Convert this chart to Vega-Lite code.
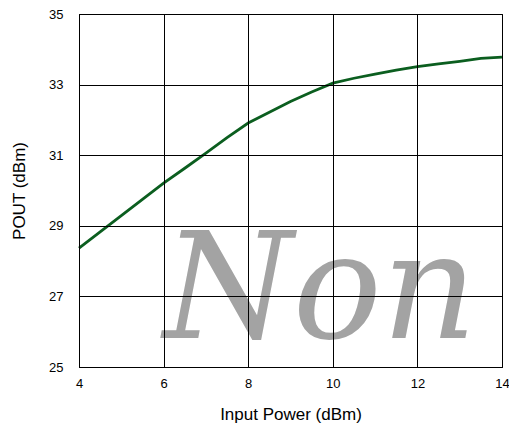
{
  "$schema": "https://vega.github.io/schema/vega-lite/v6.json",
  "width": 423,
  "height": 353,
  "autosize": "none",
  "padding": {"left": 79, "top": 14, "right": 7, "bottom": 66},
  "background": "white",
  "config": {
    "view": {"stroke": "black", "strokeWidth": 1},
    "font": "Liberation Sans"
  },
  "layer": [
    {
      "data": {"values": [{"label": "Non"}]},
      "mark": {"type": "text", "font": "DejaVu Serif", "fontStyle": "italic", "fontSize": 148, "color": "#a3a3a3", "align": "center", "baseline": "bottom", "clip": false},
      "encoding": {
        "text": {"field": "label"},
        "x": {"datum": 9.7, "type": "quantitative"},
        "y": {"datum": 24.95, "type": "quantitative"}
      }
    },
    {
      "data": {
        "values": [
          {"pin": 4, "pout": 28.37},
          {"pin": 4.5, "pout": 28.83},
          {"pin": 5, "pout": 29.29},
          {"pin": 5.5, "pout": 29.75},
          {"pin": 6, "pout": 30.21},
          {"pin": 6.5, "pout": 30.63},
          {"pin": 7, "pout": 31.06},
          {"pin": 7.5, "pout": 31.5},
          {"pin": 8, "pout": 31.91},
          {"pin": 8.5, "pout": 32.22},
          {"pin": 9, "pout": 32.52},
          {"pin": 9.5, "pout": 32.79},
          {"pin": 10, "pout": 33.04},
          {"pin": 10.5, "pout": 33.18},
          {"pin": 11, "pout": 33.3},
          {"pin": 11.5, "pout": 33.41},
          {"pin": 12, "pout": 33.51},
          {"pin": 12.5, "pout": 33.59},
          {"pin": 13, "pout": 33.66},
          {"pin": 13.5, "pout": 33.74},
          {"pin": 14, "pout": 33.78}
        ]
      },
      "mark": {"type": "line", "color": "#0b5e1f", "strokeWidth": 2.8},
      "encoding": {
        "x": {
          "field": "pin", "type": "quantitative",
          "scale": {"domain": [4, 14], "nice": false, "zero": false},
          "axis": {
            "title": "Input Power (dBm)",
            "values": [4, 6, 8, 10, 12, 14],
            "grid": true, "gridColor": "black", "gridOpacity": 1, "gridWidth": 1,
            "domainColor": "black", "domainWidth": 1,
            "ticks": false, "labelPadding": 10,
            "labelFontSize": 13, "labelColor": "black", "labelFont": "Liberation Sans",
            "labelFlush": false, "labelOverlap": false,
            "titleFontSize": 17, "titleFontWeight": "normal", "titleColor": "black", "titleFont": "Liberation Sans",
            "titlePadding": 16,
            "zindex": 1
          }
        },
        "y": {
          "field": "pout", "type": "quantitative",
          "scale": {"domain": [25, 35], "nice": false, "zero": false},
          "axis": {
            "title": "POUT (dBm)",
            "values": [25, 27, 29, 31, 33, 35],
            "grid": true, "gridColor": "black", "gridOpacity": 1, "gridWidth": 1,
            "domainColor": "black", "domainWidth": 1,
            "ticks": false, "labelPadding": 16,
            "labelFontSize": 13, "labelColor": "black", "labelFont": "Liberation Sans",
            "labelFlush": false, "labelOverlap": false,
            "titleFontSize": 17, "titleFontWeight": "normal", "titleColor": "black", "titleFont": "Liberation Sans",
            "titlePadding": 20,
            "zindex": 1
          }
        }
      }
    }
  ]
}
